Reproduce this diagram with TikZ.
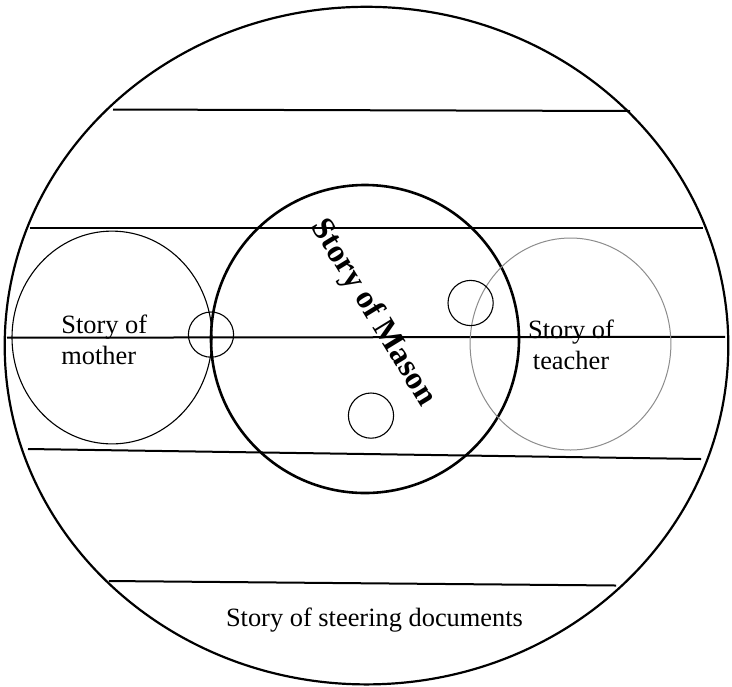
\documentclass[tikz,border=0pt]{standalone}
\usepackage{fontspec}
\setmainfont{Liberation Serif}
\begin{document}
\begin{tikzpicture}[x=0.5pt,y=-0.5pt,
  outerring/.style={line width=1.1pt},
  band/.style={line width=1pt},
  masonring/.style={line width=1.3pt},
  thinring/.style={line width=0.55pt},
  greyring/.style={line width=0.5pt, draw=black!45},
  label/.style={font=\fontsize{13.2}{15.5}\selectfont, inner sep=0pt},
  masonlabel/.style={font=\fontsize{16.2}{19}\selectfont\bfseries, inner sep=0pt}]
\useasboundingbox (0,0) rectangle (732,686);
% outer ellipse
\draw[outerring] (366.5,345.6) ellipse [x radius=180.9pt, y radius=169.4pt];
% horizontal bands
\draw[band] (113,109.5) -- (630,111);
\draw[band] (29.5,227.5) -- (702.5,227.5);
\draw[band] (7,337.7) -- (725,336.8);
\draw[band] (28,449) -- (701,459);
\draw[band] (108.8,581) -- (616,585.5);
% circles
\draw[masonring] (365,339) circle [radius=77pt];
\draw[thinring] (112,337.5) ellipse [x radius=50pt, y radius=53.2pt];
\draw[greyring] (570.5,344) ellipse [x radius=50.2pt, y radius=53pt];
\draw[thinring] (211,334.6) circle [radius=11.3pt];
\draw[thinring] (470.6,303) circle [radius=11.3pt];
\draw[thinring] (371,415.6) circle [radius=11.3pt];
% labels
\node[label, anchor=north west, align=left] (mother) at (61,315) {Story of\\mother};
\node[label, anchor=north, align=center] (teacher) at (571,320) {Story of\\teacher};
\node[label, anchor=base] (steering) at (374.5,626) {Story of steering documents};
\node[masonlabel, rotate=-58.5] (mason) at (373,313) {Story of Mason};
\end{tikzpicture}
\end{document}
